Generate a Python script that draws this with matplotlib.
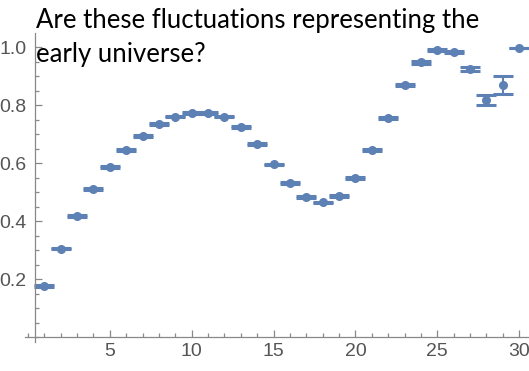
import numpy as np
import matplotlib.pyplot as plt
from matplotlib.ticker import MultipleLocator

x = np.arange(1, 31)
y = [0.177, 0.305, 0.417, 0.510, 0.587, 0.646, 0.694, 0.734, 0.760, 0.773,
     0.773, 0.760, 0.724, 0.666, 0.595, 0.530, 0.482, 0.464, 0.486, 0.549,
     0.646, 0.756, 0.868, 0.947, 0.990, 0.982, 0.924, 0.817, 0.869, 0.998]
err = [0.003, 0.003, 0.003, 0.003, 0.003, 0.003, 0.003, 0.003, 0.003, 0.003,
       0.003, 0.003, 0.003, 0.003, 0.003, 0.003, 0.003, 0.003, 0.003, 0.003,
       0.003, 0.003, 0.003, 0.004, 0.004, 0.004, 0.006, 0.017, 0.031, 0.0]

W, H = 529, 371
fig = plt.figure(figsize=(W / 100, H / 100), dpi=100)

# pixel mapping: px = 28 + 16.37*x, py = 337 - 290*y
x0, x1 = -0.2, 30.6
y0, y1 = -0.017, 1.048
left = (28 + 16.37 * x0) / W
width = 16.37 * (x1 - x0) / W
bottom = (H - (337 - 290 * y0)) / H
height = 290 * (y1 - y0) / H
ax = fig.add_axes([left, bottom, width, height])

col = '#5E81B5'
ax.errorbar(x, y, yerr=err, fmt='o', color=col, ms=5.5, elinewidth=1.5,
            capsize=7.5, capthick=2.2)

ax.set_xlim(x0, x1)
ax.set_ylim(y0, y1)
for s in ['top', 'right']:
    ax.spines[s].set_visible(False)
ax.spines['left'].set_position(('data', 0.43))
ax.spines['bottom'].set_position(('data', 0))
for s in ['left', 'bottom']:
    ax.spines[s].set_color('#888888')
    ax.spines[s].set_linewidth(0.9)

ax.xaxis.set_minor_locator(MultipleLocator(1))
ax.yaxis.set_minor_locator(MultipleLocator(0.05))
ax.set_xticks([5, 10, 15, 20, 25, 30])
ax.set_yticks([0.2, 0.4, 0.6, 0.8, 1.0])
ax.set_yticklabels(['0.2', '0.4', '0.6', '0.8', '1.0'])
ax.tick_params(which='both', direction='in', color='#888888', width=0.9,
               labelcolor='#555555', labelsize=14)
ax.tick_params(which='major', length=5)
ax.tick_params(which='minor', length=3)
ax.tick_params(axis='x', pad=4)
ax.tick_params(axis='y', pad=6)
for lab in ax.get_xticklabels() + ax.get_yticklabels():
    lab.set_fontfamily('Liberation Sans')

fig.text(36 / W, 1 - 28 / H, 'Are these fluctuations representing the',
         fontsize=18.5, family='Lato', color='black', va='baseline', ha='left')
fig.text(36 / W, 1 - 62 / H, 'early universe?',
         fontsize=18.5, family='Lato', color='black', va='baseline', ha='left')

fig.savefig('out.png', dpi=100)
